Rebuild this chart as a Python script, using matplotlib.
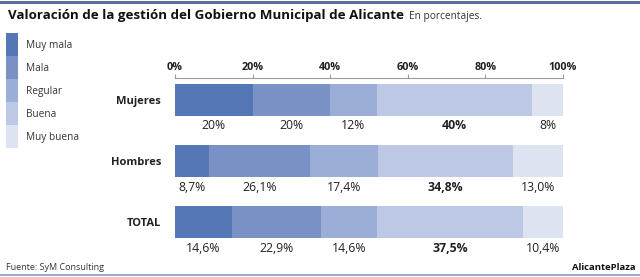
import matplotlib
matplotlib.use("Agg")
import matplotlib.pyplot as plt
import matplotlib.transforms as mtransforms
import numpy as np

plt.rcParams['font.family'] = ['Open Sans', 'DejaVu Sans']

categories = ["Mujeres", "Hombres", "TOTAL"]
series_names = ["Muy mala", "Mala", "Regular", "Buena", "Muy buena"]
muy_mala = [20, 8.7, 14.6]
mala = [20, 26.1, 22.9]
regular = [12, 17.4, 14.6]
buena = [40, 34.8, 37.5]
muy_buena = [8, 13.0, 10.4]
value_labels = [
    ["20%", "20%", "12%", "40%", "8%"],
    ["8,7%", "26,1%", "17,4%", "34,8%", "13,0%"],
    ["14,6%", "22,9%", "14,6%", "37,5%", "10,4%"],
]
tick_values = [0, 20, 40, 60, 80, 100]
tick_labels = ["0%", "20%", "40%", "60%", "80%", "100%"]
colors = ["#5577b6", "#7a91c6", "#9aaed8", "#bcc8e4", "#dde3f1"]

series = [muy_mala, mala, regular, buena, muy_buena]

W, H = 640, 277
fig = plt.figure(figsize=(W / 100, H / 100), dpi=100)
fig.patch.set_facecolor("white")

# axes placement in pixels
x0, x1 = 175, 563
ytop, ybot = 84, 238
ax = fig.add_axes([x0 / W, (H - ybot) / H, (x1 - x0) / W, (ybot - ytop) / H])
ax.set_facecolor("none")

h = 0.525
ypos = np.arange(len(categories))
left = np.zeros(len(categories))
for s, c in zip(series, colors):
    vals = np.array(s, dtype=float)
    ax.barh(ypos, vals, left=left, height=h, color=c, edgecolor="none")
    left = left + vals

ax.set_xlim(0, 100)
ax.set_ylim(2 + 0.26, -0.26)

# value labels under bars
offset = mtransforms.ScaledTranslation(0, -10 / 100, fig.dpi_scale_trans)
for i in range(len(categories)):
    cum = 0
    for j, s in enumerate(series):
        v = s[i]
        xc = cum + v / 2
        cum += v
        ax.text(xc, i + h / 2, value_labels[i][j], ha="center", va="center",
                fontsize=8.8, color="#222222",
                fontweight="bold" if j == 3 else "normal",
                transform=ax.transData + offset)

# category labels
ax.set_yticks(ypos)
ax.set_yticklabels(categories, fontsize=8, fontweight="bold", color="#222222")
ax.tick_params(axis="y", length=0, pad=10)

# top axis (ticks drawn by axis, labels drawn as bold text)
ax.xaxis.set_ticks_position("top")
ax.set_xticks(tick_values)
ax.tick_params(axis="x", direction="out", length=3, width=0.8, color="#999999",
               labeltop=False, labelbottom=False)
for sp in ["left", "right", "bottom"]:
    ax.spines[sp].set_visible(False)
ax.spines["top"].set_position(("outward", 4))
ax.spines["top"].set_color("#999999")
ax.spines["top"].set_linewidth(0.8)

lab_tr = mtransforms.blended_transform_factory(ax.transData, ax.transAxes) + \
    mtransforms.ScaledTranslation(0, 16 / 100, fig.dpi_scale_trans)
for tv, tl in zip(tick_values, tick_labels):
    ax.text(tv, 1.0, tl, ha="center", va="center", fontsize=7.8, fontweight="bold",
            color="#222222", transform=lab_tr, clip_on=False)

# legend boxes
box_x0, box_x1 = 6, 18
box_top = 33
box_h = 23
for k, (name, c) in enumerate(zip(series_names, colors)):
    yt = box_top + k * box_h
    fig.patches.append(plt.Rectangle((box_x0 / W, 1 - (yt + box_h) / H),
                                     (box_x1 - box_x0) / W, box_h / H,
                                     transform=fig.transFigure, color=c, lw=0))
    fig.text(26 / W, 1 - (yt + box_h / 2 + 1) / H, name, fontsize=7.3,
             color="#333333", va="center", ha="left")

# title
fig.text(8 / W, 1 - 16 / H, "Valoración de la gestión del Gobierno Municipal de Alicante",
         fontsize=9.6, fontweight="bold", color="#111111", va="center", ha="left")
fig.text(409 / W, 1 - 16.5 / H, "En porcentajes.", fontsize=7.3, color="#333333",
         va="center", ha="left")

# footer
fig.text(6 / W, 1 - 267 / H, "Fuente: SyM Consulting", fontsize=6.5, color="#333333",
         va="center", ha="left")
fig.text(636 / W, 1 - 267 / H, "AlicantePlaza", fontsize=6.8, fontweight="bold",
         color="#111111", va="center", ha="right")

# border lines
fig.add_artist(plt.Line2D([0, 1], [1 - 1.5 / H, 1 - 1.5 / H], transform=fig.transFigure,
                          color="#5c6f9c", lw=2.2))
fig.add_artist(plt.Line2D([0, 1], [1 - 275 / H, 1 - 275 / H], transform=fig.transFigure,
                          color="#8a9cc4", lw=1.2))

fig.savefig("out.png", dpi=100, facecolor="white")
